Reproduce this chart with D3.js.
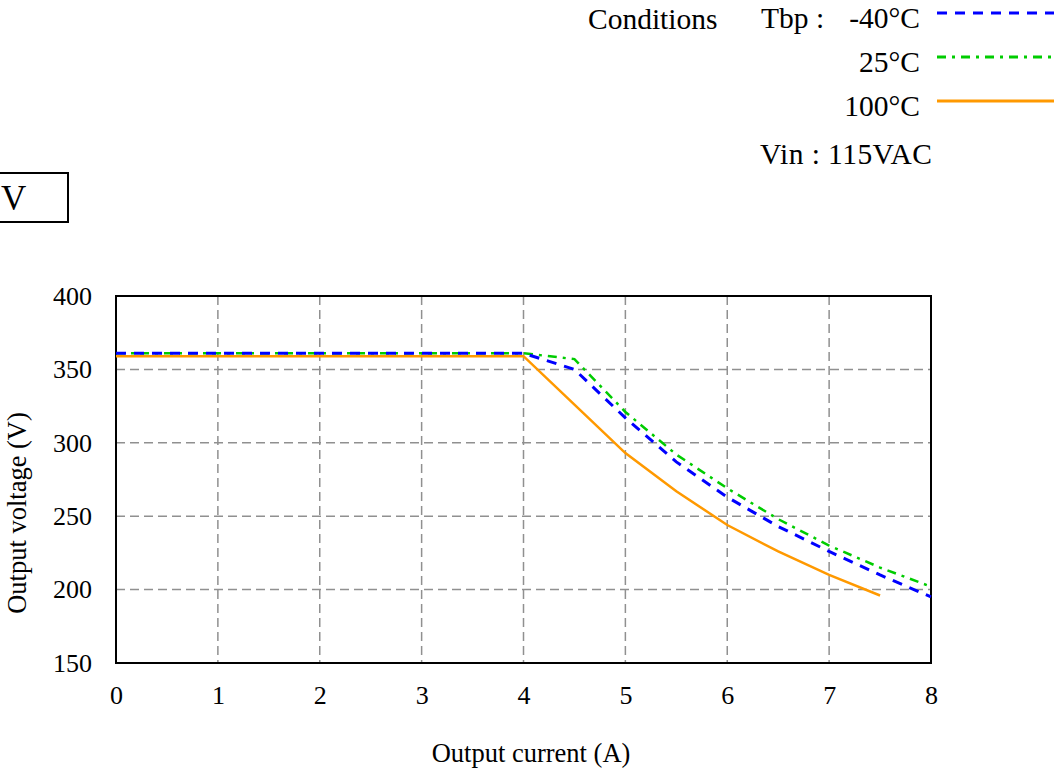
<!DOCTYPE html>
<html><head><meta charset="utf-8">
<script src="https://cdn.jsdelivr.net/npm/d3@7"></script>
<style>html,body{margin:0;padding:0;background:#fff;overflow:hidden}</style>
</head><body>
<svg id="c" width="1058" height="769"></svg>
<script>
// ---- data ----
const currentA = [0, 1, 2, 3, 4, 4.5, 5, 5.5, 6, 6.5, 7, 7.5, 8];
const voltM40 = [361, 361, 361, 361, 361, 350, 317, 287, 263, 243, 226, 210, 195];
const volt25  = [361, 361, 361, 361, 361, 357, 321, 292, 269, 248, 230, 215, 202];
const current100 = [0, 1, 2, 3, 4, 4.5, 5, 5.5, 6, 6.5, 7, 7.5];
const volt100 = [359, 359, 359, 359, 359, 326, 293, 267, 244, 226, 210, 196];
const xTicks = [0, 1, 2, 3, 4, 5, 6, 7, 8];
const yTicks = [150, 200, 250, 300, 350, 400];
const legendLabels = ["-40°C", "25°C", "100°C"];

const svg = d3.select("#c");
const font = "'Liberation Serif','Times New Roman',serif";
const x = d3.scaleLinear().domain([0, 8]).range([116, 931]);
const y = d3.scaleLinear().domain([150, 400]).range([663, 296]);

// grid
const g = svg.append("g");
g.selectAll(".vg").data(xTicks.filter(d => d > 0 && d < 8)).join("line")
  .attr("x1", d => x(d)).attr("x2", d => x(d)).attr("y1", y(400)).attr("y2", y(150))
  .attr("stroke", "#909090").attr("stroke-width", 1.5).attr("stroke-dasharray", "9,5");
g.selectAll(".hg").data(yTicks.filter(d => d > 150 && d < 400)).join("line")
  .attr("x1", x(0)).attr("x2", x(8)).attr("y1", d => y(d)).attr("y2", d => y(d))
  .attr("stroke", "#909090").attr("stroke-width", 1.5).attr("stroke-dasharray", "9,5");

// frame
svg.append("rect").attr("x", x(0)).attr("y", y(400)).attr("width", x(8) - x(0)).attr("height", y(150) - y(400))
  .attr("fill", "none").attr("stroke", "#000").attr("stroke-width", 2);

// axes labels via d3 axis
const xAxis = svg.append("g").attr("transform", `translate(0,${y(150)})`)
  .call(d3.axisBottom(x).tickValues(xTicks).tickSize(0).tickPadding(23).tickFormat(d3.format("d")));
const yAxis = svg.append("g").attr("transform", `translate(${x(0)},0)`)
  .call(d3.axisLeft(y).tickValues(yTicks).tickSize(0).tickPadding(24).tickFormat(d3.format("d")));
[xAxis, yAxis].forEach(a => {
  a.select(".domain").remove();
  a.selectAll("text").attr("font-family", font).attr("font-size", 26).attr("fill", "#000");
});

// lines
const line = d3.line().x(d => x(d[0])).y(d => y(d[1]));
const s1 = currentA.map((c, i) => [c, voltM40[i]]);
const s2 = currentA.map((c, i) => [c, volt25[i]]);
const s3 = current100.map((c, i) => [c, volt100[i]]);
svg.append("path").datum(s3).attr("d", line).attr("fill", "none").attr("stroke", "#ff9900").attr("stroke-width", 2.5);
svg.append("path").datum(s2).attr("d", line).attr("fill", "none").attr("stroke", "#00cc00").attr("stroke-width", 2.5).attr("stroke-dasharray", "9,6,3,6");
svg.append("path").datum(s1).attr("d", line).attr("fill", "none").attr("stroke", "#0000ff").attr("stroke-width", 3).attr("stroke-dasharray", "10,8");

// axis titles
svg.append("text").attr("x", 531).attr("y", 762).attr("text-anchor", "middle")
  .attr("font-family", font).attr("font-size", 26.5).text("Output current (A)");
svg.append("text").attr("transform", "translate(26,513) rotate(-90)").attr("text-anchor", "middle")
  .attr("font-family", font).attr("font-size", 26.5).text("Output voltage (V)");

// legend
const lg = svg.append("g").attr("font-family", font).attr("font-size", 29.5).attr("fill", "#000");
lg.append("text").attr("x", 588).attr("y", 29).text("Conditions");
lg.append("text").attr("x", 761).attr("y", 28).text("Tbp :");
const rowsY = [28, 72, 116];
const colors = ["#0000ff", "#00cc00", "#ff9900"];
const dashes = ["10,8", "9,6,3,6", null];
legendLabels.forEach((t, i) => {
  lg.append("text").attr("x", 920).attr("y", rowsY[i]).attr("text-anchor", "end").text(t);
  const l = svg.append("line").attr("x1", 937).attr("x2", 1054).attr("y1", rowsY[i] - 15).attr("y2", rowsY[i] - 15)
    .attr("stroke", colors[i]).attr("stroke-width", 3);
  if (dashes[i]) l.attr("stroke-dasharray", dashes[i]);
});
lg.append("text").attr("x", 760).attr("y", 164).attr("textLength", 172).text("Vin : 115VAC");

// V box
svg.append("rect").attr("x", -5).attr("y", 173).attr("width", 73).attr("height", 49)
  .attr("fill", "none").attr("stroke", "#000").attr("stroke-width", 2);
svg.append("text").attr("x", 1).attr("y", 210).attr("font-family", font).attr("font-size", 35).text("V");
</script>
</body></html>
